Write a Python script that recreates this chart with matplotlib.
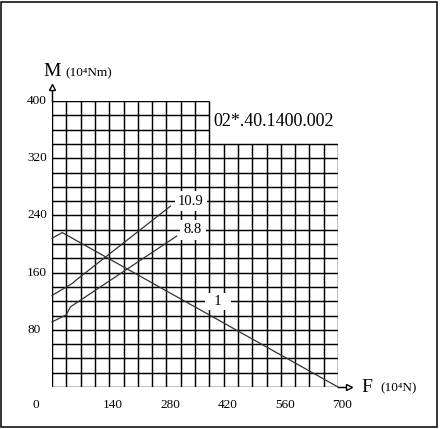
import matplotlib
matplotlib.use('Agg')
import numpy as np
import matplotlib.pyplot as plt
from matplotlib.patches import Rectangle

plt.rcParams['font.family'] = ['Liberation Serif', 'DejaVu Serif']

# data
x_ticks = [0, 140, 280, 420, 560, 700]
y_ticks = [80, 160, 240, 320, 400]
grid_step_f = 35
grid_step_m = 20
tall_f_max = 385      # grid goes to 400 up to here
low_m_max = 340       # grid height for the rest

curve1_f = [0, 25, 700]
curve1_m = [208, 216, 0]
curve109_f = [0, 50, 60, 290]
curve109_m = [128, 145, 150, 253]
curve88_f = [0, 35, 45, 305]
curve88_m = [91, 101, 112, 211]

W, H = 440, 429
fig = plt.figure(figsize=(W / 100, H / 100), dpi=100)
ax = fig.add_axes([52 / W, (H - 387) / H, 286 / W, 286 / H])
ax.set_xlim(0, 700)
ax.set_ylim(0, 400)
ax.axis('off')

# grid
lw = 1.05
for f in np.arange(0, 701, grid_step_f):
    top = 400 if f <= tall_f_max else low_m_max
    ax.vlines(f, 0, top, colors='black', lw=lw, zorder=1)
for m in np.arange(0, 401, grid_step_m):
    right = 700 if m <= low_m_max else tall_f_max
    ax.hlines(m, 0, right, colors='black', lw=lw, zorder=1)

# axis arrows
ax.plot([0, 0], [400, 418], color='black', lw=lw, clip_on=False)
ax.plot([0], [420], marker='^', ms=5, mfc='white', mec='black', mew=1, clip_on=False)
ax.plot([700, 724], [0, 0], color='black', lw=lw, clip_on=False)
ax.plot([728], [0], marker='>', ms=5, mfc='white', mec='black', mew=1, clip_on=False)

# curves
for fx, my in [(curve1_f, curve1_m), (curve109_f, curve109_m), (curve88_f, curve88_m)]:
    ax.plot(fx, my, color='#333333', lw=0.9, zorder=2, clip_on=False)

box = dict(facecolor='white', edgecolor='none', pad=2.5)
ax.text(340, 260, '10.9', fontsize=10.5, ha='center', va='center', bbox=box, zorder=3)
ax.text(345, 220, '8.8', fontsize=10.5, ha='center', va='center', bbox=box, zorder=3)
ax.text(406, 120, '  1  ', fontsize=10.5, ha='center', va='center',
        bbox=dict(facecolor='white', edgecolor='none', pad=1.5), zorder=3)

ax.text(394, 372, '02*.40.1400.002', fontsize=13, ha='left', va='center')

# tick labels
for v in x_ticks:
    dx = -16 if v == 0 else 4
    ax.annotate(str(v), (v, 0), xytext=(dx, -18), textcoords='offset pixels',
                ha='center', va='center', fontsize=9.5, annotation_clip=False)
for v in y_ticks:
    ax.annotate(str(v), (0, v), xytext=(-25, 0), textcoords='offset pixels',
                ha='left', va='center', fontsize=9.5, annotation_clip=False)

# axis titles
ax.annotate('M', (0, 400), xytext=(0, 29), textcoords='offset pixels',
            ha='center', va='center', fontsize=14, annotation_clip=False)
ax.annotate('(10⁴Nm)', (0, 400), xytext=(13, 28), textcoords='offset pixels',
            ha='left', va='center', fontsize=9.5, annotation_clip=False)
ax.annotate('F', (700, 0), xytext=(29, -1), textcoords='offset pixels',
            ha='center', va='center', fontsize=14, annotation_clip=False)
ax.annotate('(10⁴N)', (700, 0), xytext=(42, -1), textcoords='offset pixels',
            ha='left', va='center', fontsize=9.5, annotation_clip=False)

# outer frame
fig.patches.append(Rectangle((1 / W, (H - 427) / H), 436 / W, 425 / H,
                             transform=fig.transFigure, fill=False,
                             edgecolor='black', lw=1.1))

fig.savefig('out.png', dpi=100)
